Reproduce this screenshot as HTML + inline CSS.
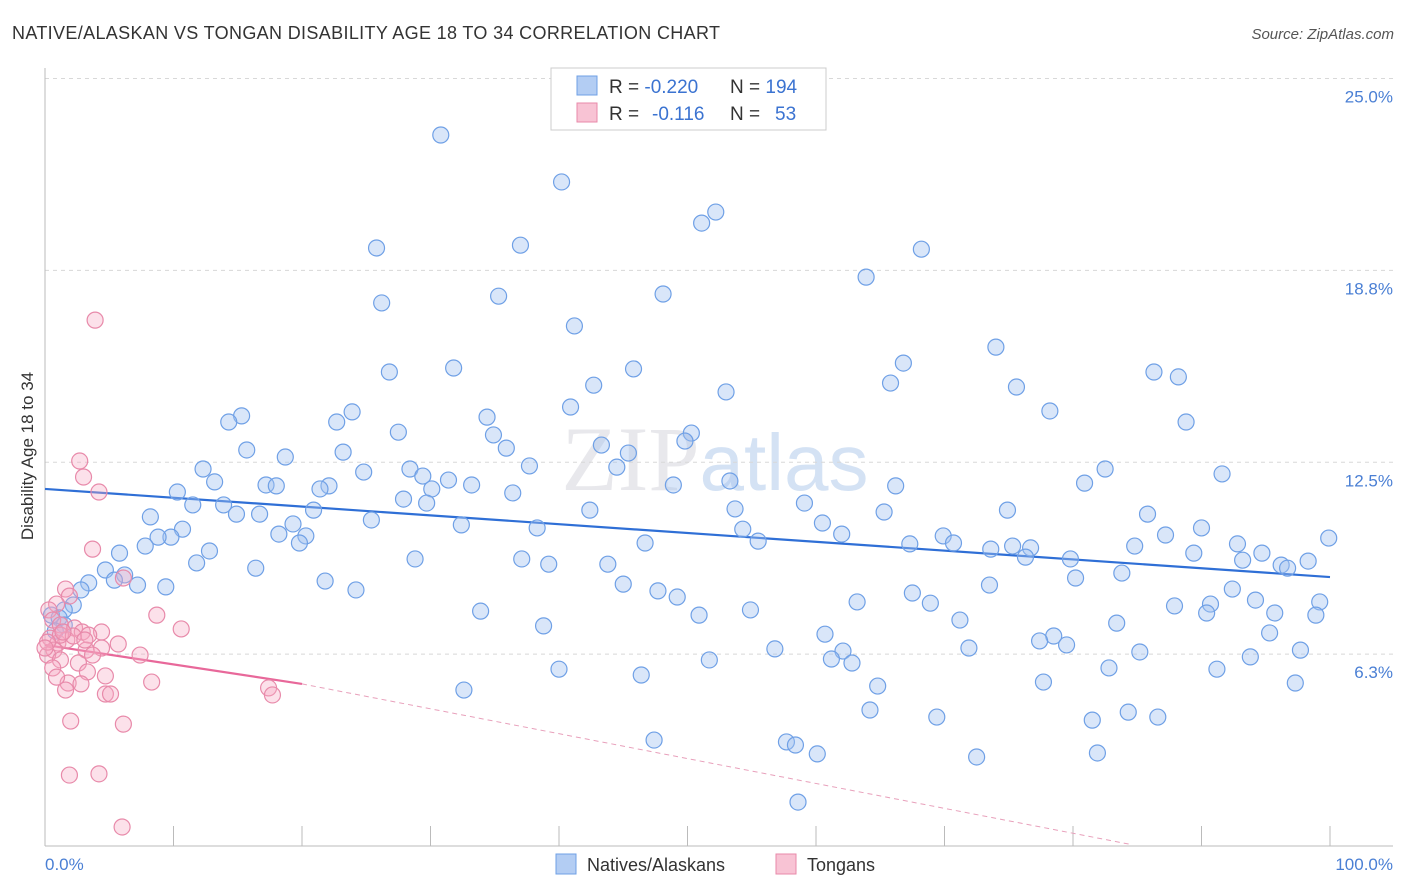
<!DOCTYPE html>
<html><head><meta charset="utf-8">
<style>
body{margin:0;background:#fff;font-family:"Liberation Sans",sans-serif;}
svg{display:block}
</style></head>
<body>
<svg id="chart" width="1406" height="892" xmlns="http://www.w3.org/2000/svg">
<text x="12" y="39" font-size="18" fill="#333" textLength="708" lengthAdjust="spacing" font-family="Liberation Sans, sans-serif">NATIVE/ALASKAN VS TONGAN DISABILITY AGE 18 TO 34 CORRELATION CHART</text>
<text x="1394" y="39" font-size="15" fill="#555" font-style="italic" text-anchor="end">Source: ZipAtlas.com</text>
<text x="715" y="490" font-size="92" fill="#e8e8ec" text-anchor="middle" font-family="Liberation Serif, serif">ZIP<tspan fill="#d4e2f4" font-family="Liberation Sans, sans-serif" font-size="80">atlas</tspan></text>
<g id="grid"></g>
<g id="axes"></g>
<g id="trend"></g>
<g id="points"></g>
<text transform="translate(33,456) rotate(-90)" font-size="17" fill="#333" text-anchor="middle">Disability Age 18 to 34</text>
<text x="45" y="870" font-size="17" fill="#4a7fd4">0.0%</text>
<text x="1393" y="870" font-size="17" fill="#4a7fd4" text-anchor="end">100.0%</text>
<g>
<rect x="551" y="68" width="275" height="62" fill="#fff" stroke="#ccc"/>
<rect x="577" y="76" width="20" height="19" fill="#b3cdf3" stroke="#6fa0e6"/>
<rect x="577" y="103" width="20" height="19" fill="#f8c3d4" stroke="#e88aaa"/>
<text x="609" y="93" font-size="19" fill="#333">R = <tspan fill="#3b73d1">-0.220</tspan><tspan x="730">N = </tspan><tspan fill="#3b73d1">194</tspan></text>
<text x="609" y="120" font-size="19" fill="#333">R = <tspan fill="#3b73d1" x="652">-0.116</tspan><tspan x="730">N = </tspan><tspan fill="#3b73d1" x="775">53</tspan></text>
</g>
<g>
<rect x="556" y="854" width="20" height="20" fill="#b3cdf3" stroke="#6fa0e6"/>
<text x="587" y="871" font-size="18" fill="#333">Natives/Alaskans</text>
<rect x="776" y="854" width="20" height="20" fill="#f8c3d4" stroke="#e88aaa"/>
<text x="807" y="871" font-size="18" fill="#333">Tongans</text>
</g>
</svg>
<script>
const yTicks=[6.25,12.5,18.75,25];
const yTickLabels=["6.3%","12.5%","18.8%","25.0%"];
const xTicks=[0,10,20,30,40,50,60,70,80,90,100];
const blueX=[30.8,40.2,52.2,51.1,25.8,37.0,68.2,63.9,26.2,35.3,48.1,41.2,74.0,66.8,31.8,26.8,45.8,86.3,88.2,42.7,65.8,75.6,53.0,40.9,78.2,34.4,23.9,15.3,14.3,22.7,88.8,27.5,34.9,50.3,49.8,43.3,45.4,15.7,23.2,18.7,35.9,37.7,44.5,12.3,28.4,82.5,91.6,24.8,29.4,31.4,33.2,48.9,53.3,13.2,17.2,18.0,22.1,21.4,10.3,30.1,27.9,29.7,36.4,66.2,80.9,13.9,11.5,14.9,16.7,8.2,25.4,20.9,42.4,59.1,53.7,65.3,74.9,85.8,19.3,10.7,9.8,32.4,38.3,54.3,60.5,62.0,90.0,18.2,20.3,19.8,8.8,7.8,5.8,12.8,46.7,55.5,69.9,70.7,67.3,87.2,92.8,99.9,73.6,75.3,76.7,84.8,94.7,11.8,16.4,28.8,37.1,39.2,43.8,76.3,79.8,89.4,96.2,98.3,96.7,93.2,4.7,6.2,3.4,5.4,7.2,9.4,2.8,21.8,24.2,45.0,47.7,49.2,73.5,80.2,83.8,92.4,2.2,1.5,33.9,63.2,67.5,68.9,90.7,87.9,94.2,95.7,99.2,98.9,50.9,54.9,71.2,90.4,0.5,1.1,1.5,0.8,38.8,60.7,83.4,78.5,77.4,79.5,95.3,56.8,62.1,61.2,62.8,71.9,85.2,93.8,97.7,51.7,40.0,46.4,82.8,91.2,64.8,77.7,97.3,32.6,64.2,69.4,81.5,84.3,86.6,47.4,57.7,58.4,60.1,72.5,81.9,58.6];
const blueY=[23.16,21.63,20.65,20.29,19.48,19.57,19.44,18.53,17.69,17.91,17.98,16.94,16.25,15.73,15.57,15.44,15.54,15.44,15.28,15.01,15.08,14.95,14.79,14.30,14.17,13.97,14.14,14.01,13.81,13.81,13.81,13.48,13.39,13.45,13.19,13.06,12.80,12.90,12.83,12.67,12.96,12.38,12.34,12.28,12.28,12.28,12.12,12.18,12.05,11.92,11.76,11.76,11.89,11.86,11.76,11.73,11.73,11.63,11.53,11.63,11.30,11.17,11.50,11.73,11.82,11.11,11.11,10.81,10.81,10.72,10.62,10.94,10.94,11.17,10.98,10.88,10.94,10.81,10.49,10.32,10.06,10.46,10.36,10.32,10.52,10.16,10.36,10.16,10.10,9.87,10.06,9.77,9.54,9.61,9.87,9.93,10.10,9.87,9.84,10.13,9.84,10.03,9.67,9.77,9.71,9.77,9.54,9.22,9.05,9.35,9.35,9.18,9.18,9.41,9.35,9.54,9.15,9.28,9.05,9.31,8.99,8.83,8.57,8.66,8.50,8.44,8.34,8.63,8.34,8.53,8.31,8.11,8.50,8.73,8.89,8.37,7.85,7.69,7.65,7.95,8.24,7.91,7.88,7.82,8.01,7.59,7.95,7.52,7.52,7.69,7.36,7.59,7.52,7.43,7.20,7.00,7.17,6.90,7.26,6.84,6.68,6.55,6.94,6.42,6.35,6.09,5.96,6.45,6.32,6.16,6.38,6.06,5.76,5.57,5.80,5.76,5.21,5.34,5.31,5.08,4.43,4.20,4.10,4.36,4.20,3.45,3.39,3.29,3.00,2.90,3.03,1.43];
const pinkX=[3.9,2.7,3.0,4.2,3.7,1.6,1.9,0.9,6.1,8.7,10.6,0.3,0.6,1.2,2.3,2.9,4.4,3.4,0.4,1.0,1.7,0.7,3.2,5.7,4.4,7.4,0.2,1.2,2.6,3.7,0.6,3.3,4.7,1.8,2.8,0.9,8.3,1.6,4.7,5.1,17.4,17.7,2.0,6.1,1.9,4.2,6.0,1.2,2.2,0.2,1.4,3.1,0.0];
const pinkY=[17.13,12.54,12.02,11.53,9.67,8.37,8.14,7.88,8.73,7.52,7.07,7.69,7.36,7.20,7.10,6.97,6.97,6.87,6.77,6.61,6.71,6.38,6.38,6.58,6.45,6.22,6.22,6.06,5.96,6.22,5.80,5.67,5.54,5.31,5.28,5.50,5.34,5.08,4.95,4.95,5.15,4.92,4.07,3.97,2.31,2.35,0.62,6.87,6.84,6.64,6.97,6.71,6.45];
const blueTrend=[11.63,8.76];
const pinkTrend=[6.55,5.28,0.05];
const NS="http://www.w3.org/2000/svg";
const X0=45,X1=1330,Y0=846,PXY=30.7;
function sx(v){return X0+(X1-X0)*v/100;}
function sy(v){return Y0-v*PXY;}
function mk(tag,attrs,parent){const e=document.createElementNS(NS,tag);for(const k in attrs)e.setAttribute(k,attrs[k]);parent.appendChild(e);return e;}
const grid=document.getElementById('grid'),axes=document.getElementById('axes'),trend=document.getElementById('trend'),pts=document.getElementById('points');
yTicks.forEach((t,i)=>{
 const l=mk('line',{x1:45,x2:1393,y1:sy(t),y2:sy(t),stroke:'#d8d8d8','stroke-dasharray':'4,4'},grid);
 
 
 const tx=mk('text',{x:1393,y:sy(t)+24,'font-size':17,fill:'#4a7fd4','text-anchor':'end'},grid);
 tx.textContent=yTickLabels[i];
 
 
});
const ya=mk('line',{x1:45,x2:45,y1:68,y2:846,stroke:'#bbb'},axes);


const xa=mk('line',{x1:45,x2:1393,y1:846,y2:846,stroke:'#bbb'},axes);


xTicks.forEach(t=>{
 const l=mk('line',{x1:sx(t),x2:sx(t),y1:826,y2:846,stroke:'#bbb'},axes);
 
 
});
blueX.forEach((x,i)=>{
 const c=mk('circle',{cx:sx(x),cy:sy(blueY[i]),r:8,fill:'rgba(160,192,240,0.4)',stroke:'#6fa0e6','stroke-width':1.2},pts);
 
 
});
pinkX.forEach((x,i)=>{
 const c=mk('circle',{cx:sx(x),cy:sy(pinkY[i]),r:8,fill:'rgba(245,170,196,0.35)',stroke:'#e88aaa','stroke-width':1.2},pts);
 
 
});
const bt=mk('line',{x1:sx(0),y1:sy(blueTrend[0]),x2:sx(100),y2:sy(blueTrend[1]),stroke:'#2f6fd6','stroke-width':2.2},trend);


const pt=mk('line',{x1:sx(0),y1:sy(pinkTrend[0]),x2:sx(20),y2:sy(pinkTrend[1]),stroke:'#e8689a','stroke-width':2.2},trend);


const pd=mk('line',{x1:sx(20),y1:sy(pinkTrend[1]),x2:sx(84.5),y2:sy(pinkTrend[2]),stroke:'#e8a0bb','stroke-width':1,'stroke-dasharray':'5,4'},trend);


</script>
</body></html>
